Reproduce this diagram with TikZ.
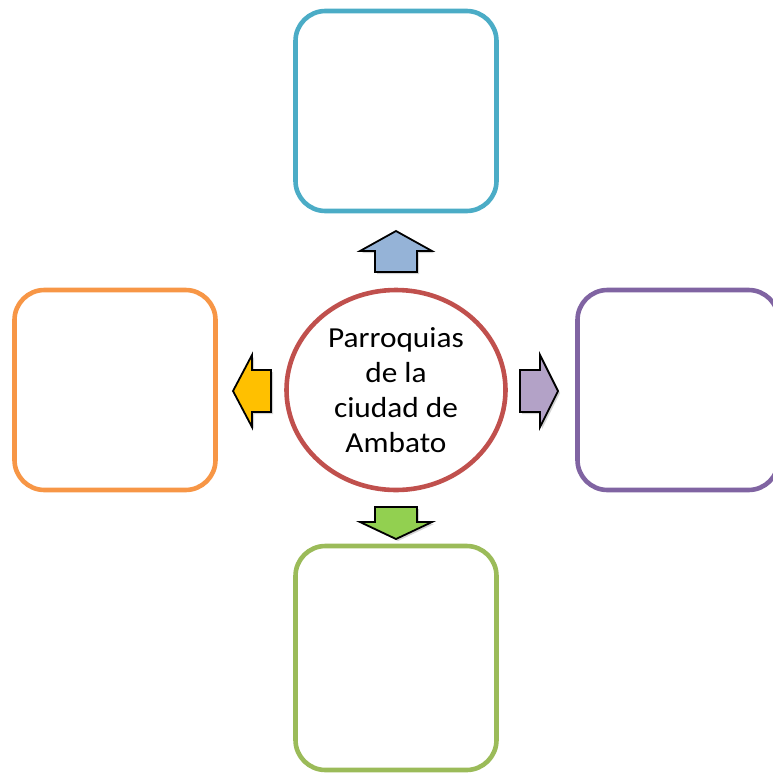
\documentclass[tikz,border=0pt]{standalone}
\usepackage{fontspec}
\newfontfamily\hubfont{Carlito}[FakeStretch=1.08]
\usetikzlibrary{shadows,shapes.geometric}

\definecolor{tealline}{HTML}{4BACC6}
\definecolor{orangeline}{HTML}{F79646}
\definecolor{purpleline}{HTML}{8064A2}
\definecolor{greenline}{HTML}{9BBB59}
\definecolor{redline}{HTML}{C0504D}
\definecolor{bluefill}{HTML}{95B3D7}
\definecolor{yellowfill}{HTML}{FFC000}
\definecolor{lilacfill}{HTML}{B3A2C7}
\definecolor{limefill}{HTML}{92D050}

\tikzset{
  parishbox/.style={draw,line width=4.6pt,rounded corners=30pt,minimum width=201pt,minimum height=200pt,inner sep=0pt},
  blockarrow/.style={draw=black,line width=1.8pt,line join=miter,
    drop shadow={shadow xshift=2pt,shadow yshift=-2pt,opacity=0.35}}
}

\begin{document}
\begin{tikzpicture}[x=1pt,y=-1pt]
  \useasboundingbox (0,0) rectangle (772,774);

  % Centre
  \node[draw=redline,line width=4.6pt,ellipse,minimum width=219pt,minimum height=200pt,inner sep=0pt,
        align=center,font=\hubfont\fontsize{29}{35}\selectfont] (hub) at (396,390)
        {Parroquias\\de la\\ciudad de\\Ambato};

  \node[parishbox,draw=tealline] (top) at (396,111) {};
  \node[parishbox,draw=orangeline] (left) at (115,390) {};
  \node[parishbox,draw=purpleline] (right) at (678,390) {};
  \node[parishbox,draw=greenline,minimum height=224pt] (bottom) at (396,658) {};

  \draw[blockarrow,fill=bluefill] (375,272) -- (375,251) -- (360,251) -- (396,231) -- (432,251) -- (417,251) -- (417,272) -- cycle;
  \draw[blockarrow,fill=yellowfill] (271,370) -- (252,370) -- (252,355) -- (233,391) -- (252,427) -- (252,412) -- (271,412) -- cycle;
  \draw[blockarrow,fill=lilacfill] (520,370) -- (540,370) -- (540,355) -- (558,391) -- (540,427) -- (540,412) -- (520,412) -- cycle;
  \draw[blockarrow,fill=limefill] (375,507) -- (375,522) -- (360,522) -- (396,539) -- (432,522) -- (417,522) -- (417,507) -- cycle;

\end{tikzpicture}
\end{document}
